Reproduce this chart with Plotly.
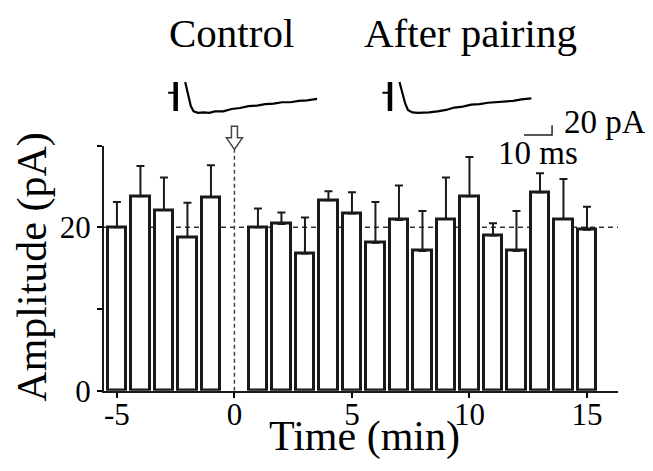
import plotly.graph_objects as go

W, H = 653, 471
X_OFF = -8  # page offset correction

# ---- data ----
time_min = [-5, -4, -3, -2, -1, 1, 2, 3, 4, 5, 6, 7, 8, 9, 10, 11, 12, 13, 14, 15]
amplitude = [20.0, 23.8, 22.1, 18.8, 23.7, 20.0, 20.4, 16.8, 23.3, 21.7,
             18.1, 20.9, 17.1, 21.0, 23.8, 19.0, 17.1, 24.3, 21.0, 19.7]
sem = [3.1, 3.7, 4.0, 4.2, 3.9, 2.3, 1.4, 4.4, 1.1, 2.6,
       5.0, 4.2, 4.9, 5.1, 4.8, 1.5, 4.9, 2.3, 4.9, 2.8]
baseline = 20
x_ticks = [-5, 0, 5, 10, 15]
x_ticktext = ["-5", "0", "5", "10", "15"]
y_ticks = [0, 10, 20, 30]
y_ticktext = ["0", "", "20", ""]

# example traces (ms, pA)
trace_t = [3.4, 4.4, 5.4, 6.4, 8.0, 10.0, 12.0, 14.0, 17.0, 20.0, 23.0, 26.0,
           29.0, 32.0, 35.0, 38.0, 41.0, 44.0, 47.0, 50.5]
control_i = [0, -26, -50, -61, -64, -63, -64, -61, -61, -56, -54, -50,
             -49, -46, -45, -42, -42, -39, -38, -35]
after_i = [0, -20, -44, -58, -63, -64, -64, -63, -61, -58, -53, -51,
           -47, -46, -43, -42, -40, -39, -36, -34]
artifact_t = [0, 0]
artifact_i = [0, -60]
artifact_tick_t = [-2.7, 0]
artifact_tick_i = [-22, -22]
scalebar_t = [47.9, 57.9, 57.9]
scalebar_i = [-110, -110, -90]


def px(x):
    return (x + X_OFF) / W


def py(y):
    return (H - y) / H


SERIF = "Liberation Serif, Tinos, Times New Roman, Times, DejaVu Serif, serif"

fig = go.Figure()

fig.add_trace(go.Bar(
    x=time_min, y=amplitude, width=0.8,
    marker=dict(color="white", line=dict(color="#1a1a1a", width=3)),
    error_y=dict(type="data", symmetric=False, array=sem,
                 arrayminus=[0] * len(sem), color="#1a1a1a",
                 thickness=2, width=4),
    showlegend=False, hoverinfo="skip",
))

for ax, cur in (("2", control_i), ("3", after_i)):
    fig.add_trace(go.Scatter(x=trace_t, y=cur, mode="lines",
                             line=dict(color="black", width=2.2),
                             xaxis="x" + ax, yaxis="y" + ax, showlegend=False))
    fig.add_trace(go.Scatter(x=artifact_t, y=artifact_i, mode="lines",
                             line=dict(color="black", width=4.5),
                             xaxis="x" + ax, yaxis="y" + ax, showlegend=False))
    fig.add_trace(go.Scatter(x=artifact_tick_t, y=artifact_tick_i, mode="lines",
                             line=dict(color="black", width=2),
                             xaxis="x" + ax, yaxis="y" + ax, showlegend=False))
fig.add_trace(go.Scatter(x=scalebar_t, y=scalebar_i, mode="lines",
                         line=dict(color="#222", width=1.5),
                         xaxis="x3", yaxis="y3", showlegend=False))

x_range = [-5.55, 16.32]
fig.update_layout(
    width=W, height=H,
    margin=dict(l=0, r=0, t=0, b=0),
    paper_bgcolor="white", plot_bgcolor="white",
    font=dict(family=SERIF, color="black"),
    bargap=0,
    xaxis=dict(domain=[px(104), px(618)], range=x_range,
               tickvals=x_ticks, ticktext=x_ticktext, ticks="outside",
               ticklen=5, tickwidth=2, ticklabelstandoff=-10,
               tickcolor="black", showline=True, linecolor="#1a1a1a",
               linewidth=2, showgrid=False, zeroline=False,
               tickfont=dict(family=SERIF, size=31, color="black"),
               anchor="y"),
    yaxis=dict(domain=[py(398), py(143)], range=[0, 30],
               tickvals=y_ticks, ticktext=y_ticktext, ticks="outside",
               ticklen=5, tickwidth=2, tickcolor="black", showline=True,
               linecolor="#1a1a1a", linewidth=2, showgrid=False,
               zeroline=False,
               tickfont=dict(family=SERIF, size=31, color="black"),
               anchor="x"),
    xaxis2=dict(domain=[px(160), px(340)], range=[-5.6, 58.7], visible=False,
                anchor="y2"),
    yaxis2=dict(domain=[py(140), py(65)], range=[-126, 24], visible=False,
                anchor="x2"),
    xaxis3=dict(domain=[px(374.3), px(554.3)], range=[-5.6, 58.7],
                visible=False, anchor="y3"),
    yaxis3=dict(domain=[py(140), py(65)], range=[-126, 24], visible=False,
                anchor="x3"),
)

fig.add_shape(type="line", xref="x", yref="y", x0=x_range[0], x1=x_range[1],
              y0=baseline, y1=baseline, layer="below",
              line=dict(color="#333", width=1.5, dash="5px,4px"))
fig.add_shape(type="line", xref="x", yref="y", x0=0, x1=0, y0=0, y1=29.5,
              layer="below", line=dict(color="#444", width=1.5, dash="4px,3px"))

sw, hw = 0.128, 0.341
y_top, y_mid, y_tip = py(123), py(135), py(147)
arrow_path = (f"M {-sw},{y_top} L {sw},{y_top} L {sw},{y_mid} L {hw},{y_mid} "
              f"L 0,{y_tip} L {-hw},{y_mid} L {-sw},{y_mid} Z")
fig.add_shape(type="path", xref="x", yref="paper", path=arrow_path,
              line=dict(color="#444", width=1.5), fillcolor="white")

ann = [
    dict(text="Control", x=px(231), y=py(26), size=41),
    dict(text="After pairing", x=px(470), y=py(26), size=41),
    dict(text="Time (min)", x=px(365), y=py(446), size=42),
    dict(text="20 pA", x=px(605), y=py(119), size=33),
    dict(text="10 ms", x=px(538), y=py(151), size=33),
]
for a in ann:
    fig.add_annotation(text=a["text"], x=a["x"], y=a["y"], xref="paper",
                       yref="paper", showarrow=False, xanchor="center",
                       yanchor="middle",
                       font=dict(family=SERIF, size=a["size"], color="black"))
fig.add_annotation(text="Amplitude (pA)", x=px(33), y=py(270), xref="paper",
                   yref="paper", showarrow=False, textangle=-90,
                   xanchor="center", yanchor="middle",
                   font=dict(family=SERIF, size=42, color="black"))

fig.write_html("out.html")
